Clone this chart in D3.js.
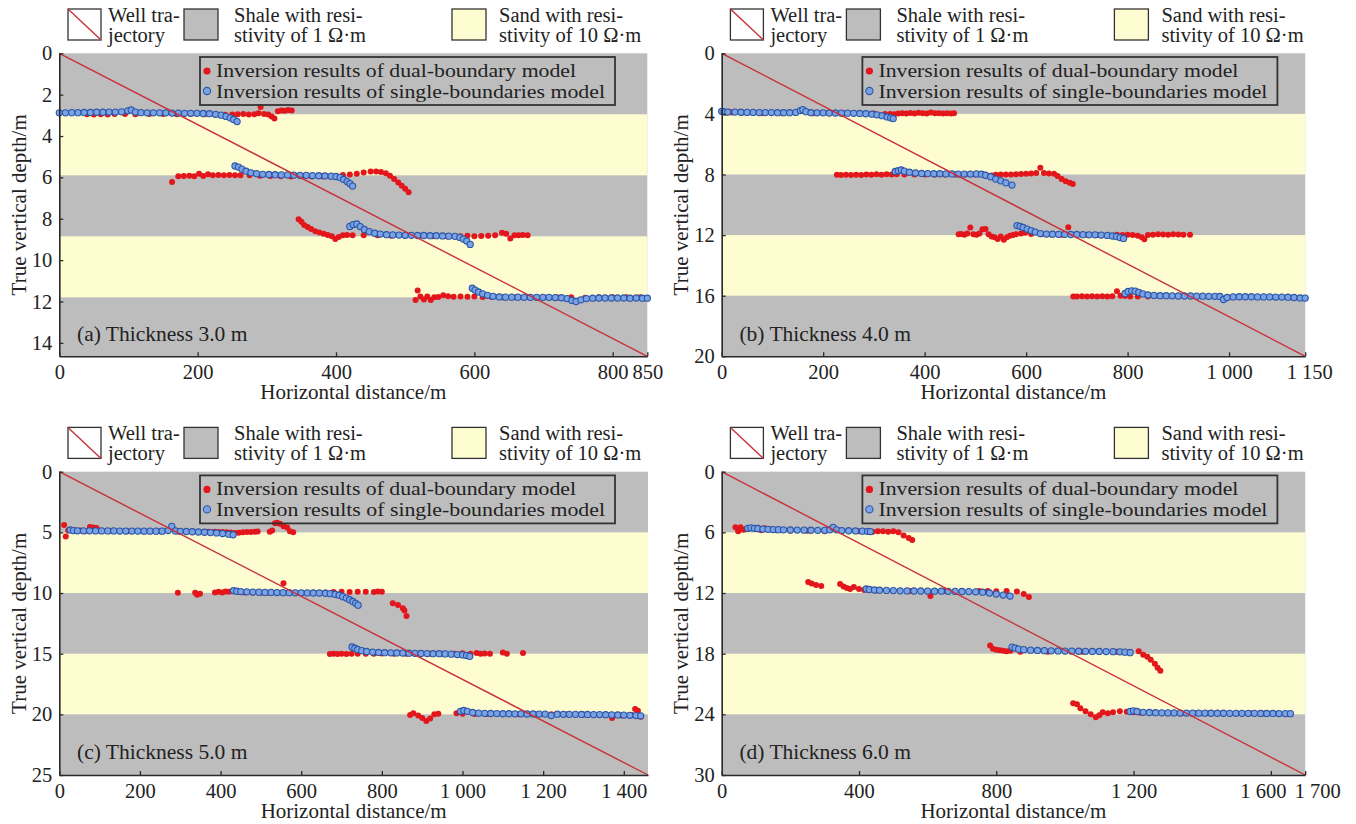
<!DOCTYPE html>
<html><head><meta charset="utf-8">
<script src="https://cdn.jsdelivr.net/npm/d3@7"></script>
<style>
body{margin:0;background:#fff}
svg{display:block}
text{font-family:"Liberation Serif","Times New Roman",serif;fill:#222}
</style>
</head><body>
<svg id="chart" width="1356" height="824"></svg>
<script>
// ---------------- DATA ----------------
const xTicksA=[0,200,400,600,800,850], yTicksA=[0,2,4,6,8,10,12,14];
const xTicksB=[0,200,400,600,800,1000,1150], yTicksB=[0,4,8,12,16,20];
const xTicksC=[0,200,400,600,800,1000,1200,1400], yTicksC=[0,5,10,15,20,25];
const xTicksD=[0,400,800,1200,1600,1700], yTicksD=[0,6,12,18,24,30];

const boundsA=[2.95,5.9,8.85,11.8];
const boundsB=[4,8,12,16];
const boundsC=[5,10,15,20];
const boundsD=[6,12,18,24];

const wellA=[[0,0],[850,14.65]];
const wellB=[[0,0],[1150,20]];
const wellC=[[0,0],[1460,25]];
const wellD=[[0,0],[1700,30]];

// dual-boundary model (red)
const dualA=[
[40,2.95],[50,2.96],[60,2.95],[70,2.96],[80,2.94],[95,2.93],[110,2.95],[130,2.94],[150,2.94],[170,2.95],[190,2.94],[210,2.95],[225,2.96],[240,2.97],[250,2.96],[258,2.95],[266,2.94],[274,2.96],[282,2.95],[288,2.9],[291,2.6],[296,2.94],[302,2.96],[307,3.05],[311,3.15],[316,2.8],[321,2.76],[326,2.78],[331,2.74],[336,2.77],
[163,6.22],[172,5.95],[180,5.93],[188,5.92],[195,5.95],[202,5.82],[208,5.93],[215,5.85],[222,5.9],[230,5.88],[238,5.9],[246,5.88],[254,5.9],[262,5.9],[275,5.9],[290,5.92],[305,5.93],[320,5.95],[335,5.96],[350,5.95],[365,5.96],[380,5.95],[392,5.96],[400,5.92],[410,5.88],[420,5.86],[430,5.82],[440,5.76],[450,5.72],[458,5.72],[465,5.74],[472,5.8],[478,5.92],[484,6.08],[490,6.25],[495,6.4],[500,6.55],[505,6.72],
[346,8.02],[350,8.15],[354,8.3],[359,8.4],[364,8.5],[370,8.6],[376,8.66],[382,8.72],[388,8.78],[394,8.85],[399,8.98],[404,8.88],[410,8.8],[416,8.78],[424,8.8],[440,8.8],[460,8.8],[480,8.82],[500,8.82],[520,8.83],[540,8.84],[560,8.85],[580,8.84],[590,8.82],[600,8.85],[610,8.83],[620,8.82],[630,8.8],[640,8.68],[646,8.72],[652,8.95],[658,8.8],[664,8.8],[670,8.78],[677,8.8],
[515,11.93],[518,11.47],[522,11.76],[527,11.9],[532,11.76],[537,11.93],[542,11.8],[548,11.78],[555,11.7],[562,11.75],[570,11.77],[580,11.76],[590,11.77],[600,11.76],[612,11.78],[625,11.78],[640,11.79],[660,11.8],[680,11.8],[700,11.8],[720,11.81],[740,11.8],[760,11.82],[780,11.8],[800,11.79],[820,11.8],[840,11.8]
];
// single-boundaries model (blue)
const singleA=[
[0,2.88],[9,2.88],[18,2.87],[27,2.87],[36,2.86],[45,2.86],[54,2.85],[63,2.85],[72,2.84],[81,2.84],[90,2.83],[99,2.78],[104,2.74],[110,2.84],[118,2.87],[127,2.88],[136,2.88],[145,2.88],[154,2.88],[163,2.89],[172,2.89],[181,2.9],[190,2.9],[199,2.9],[208,2.91],[217,2.92],[226,2.95],[234,2.99],[241,3.05],[247,3.12],[252,3.2],[257,3.3],
[254,5.45],[259,5.5],[264,5.6],[270,5.7],[277,5.78],[285,5.82],[294,5.85],[303,5.86],[312,5.87],[321,5.88],[330,5.88],[339,5.89],[348,5.9],[357,5.9],[366,5.91],[375,5.92],[384,5.93],[393,5.94],[400,5.96],[406,6.0],[411,6.1],[416,6.2],[420,6.3],[424,6.42],
[420,8.37],[425,8.28],[430,8.25],[435,8.38],[441,8.52],[448,8.62],[456,8.7],[464,8.74],[473,8.77],[482,8.78],[491,8.79],[500,8.8],[509,8.8],[518,8.81],[527,8.81],[536,8.82],[545,8.82],[554,8.83],[563,8.84],[572,8.85],[579,8.9],[584,8.98],[589,9.08],[594,9.24],
[597,11.36],[601,11.45],[606,11.54],[612,11.63],[619,11.7],[627,11.75],[636,11.78],[645,11.79],[654,11.79],[663,11.79],[672,11.8],[681,11.8],[690,11.8],[699,11.8],[708,11.8],[717,11.81],[726,11.82],[734,11.86],[741,11.95],[747,12.0],[754,11.92],[762,11.86],[771,11.84],[780,11.83],[789,11.83],[798,11.83],[807,11.83],[816,11.83],[825,11.84],[834,11.83],[843,11.84],[850,11.84]
];

const dualB=[
[8,3.9],[14,3.86],[20,3.9],[40,3.93],[80,3.95],[120,3.95],[180,3.96],[240,3.97],[300,3.98],[322,4.0],[332,4.0],[340,4.02],[348,3.98],[356,3.96],[364,3.98],[372,3.94],[380,3.97],[388,3.92],[396,3.95],[404,3.97],[412,3.9],[420,3.96],[428,3.95],[436,3.97],[444,3.96],[452,3.97],[458,3.96],
[227,8.02],[235,8.03],[245,8.02],[255,8.04],[265,8.02],[275,8.03],[285,8.0],[295,8.02],[305,7.98],[315,8.01],[325,7.98],[335,8.0],[345,7.98],[360,8.0],[380,8.0],[400,8.0],[420,8.0],[440,8.0],[460,8.0],[480,8.0],[500,8.0],[520,8.02],[532,8.06],[540,8.02],[550,8.0],[560,8.0],[570,8.0],[580,7.98],[590,7.96],[600,7.95],[610,7.93],[620,7.9],[628,7.55],[635,7.9],[645,7.93],[655,7.95],[662,8.1],[670,8.3],[678,8.45],[686,8.55],[692,8.62],
[467,11.95],[472,11.92],[478,11.98],[484,11.9],[490,11.5],[496,11.95],[502,11.98],[508,11.9],[514,11.62],[520,11.6],[526,11.95],[532,12.1],[538,12.15],[544,12.25],[550,12.1],[556,12.3],[562,12.15],[568,12.05],[574,12.0],[580,11.95],[590,11.9],[598,11.85],[610,11.92],[630,11.95],[650,11.96],[670,11.97],[683,11.48],[700,11.97],[720,11.98],[740,12.0],[760,12.0],[779,11.98],[790,12.0],[800,11.98],[810,11.99],[820,12.05],[828,12.15],[833,12.28],[840,12.0],[850,11.97],[860,11.95],[870,11.96],[880,11.97],[890,11.95],[900,11.96],[910,11.97],[923,11.98],
[693,16.05],[700,16.05],[710,16.04],[720,16.05],[730,16.04],[740,16.05],[750,16.04],[760,16.05],[770,16.04],[779,15.7],[786,16.0],[795,16.02],[805,16.05],[820,16.05],[840,16.06]
];
const singleB=[
[0,3.83],[5,3.87],[12,3.88],[26,3.88],[38,3.89],[50,3.9],[62,3.9],[74,3.91],[86,3.91],[98,3.91],[110,3.92],[122,3.92],[134,3.92],[146,3.9],[155,3.78],[160,3.72],[166,3.85],[176,3.92],[188,3.93],[200,3.93],[212,3.94],[224,3.94],[236,3.95],[248,3.95],[260,3.96],[272,3.97],[284,3.99],[296,4.02],[306,4.06],[316,4.12],[326,4.2],[333,4.26],[338,4.31],
[342,7.8],[348,7.75],[354,7.7],[360,7.78],[370,7.85],[382,7.9],[394,7.93],[406,7.94],[418,7.95],[430,7.95],[442,7.96],[454,7.96],[466,7.97],[478,7.97],[490,7.97],[502,7.96],[512,7.98],[520,8.05],[530,8.15],[540,8.3],[550,8.42],[560,8.55],[572,8.7],
[582,11.37],[588,11.42],[594,11.5],[602,11.6],[610,11.7],[618,11.8],[628,11.9],[640,11.93],[652,11.94],[664,11.95],[676,11.95],[688,11.96],[700,11.96],[712,11.97],[724,11.98],[736,11.98],[748,12.0],[760,12.02],[770,12.06],[778,12.1],[785,12.16],[792,12.22],
[795,15.85],[801,15.72],[808,15.68],[815,15.7],[822,15.78],[830,15.88],[840,15.95],[852,15.98],[864,16.0],[876,16.0],[888,16.01],[900,16.02],[912,16.02],[924,16.02],[936,16.03],[948,16.03],[960,16.04],[972,16.04],[982,16.05],[989,16.25],[996,16.12],[1008,16.08],[1020,16.07],[1032,16.07],[1044,16.07],[1056,16.08],[1068,16.08],[1080,16.08],[1092,16.09],[1104,16.09],[1116,16.1],[1128,16.12],[1140,16.15],[1150,16.16]
];

const dualC=[
[12,4.4],[16,5.35],[22,4.85],[30,4.8],[40,4.85],[52,4.85],[64,4.9],[76,4.55],[84,4.6],[92,4.65],[100,4.85],[130,4.88],[170,4.9],[210,4.9],[250,4.9],[290,4.92],[330,4.93],[370,4.95],[385,4.95],[395,4.97],[405,4.98],[415,5.0],[425,5.02],[435,5.05],[445,5.03],[455,5.0],[465,4.98],[475,4.97],[485,4.95],[492,4.92],[522,4.95],[528,4.85],[535,4.25],[540,4.2],[547,4.3],[556,4.5],[565,4.6],[572,4.9],[580,5.0],
[294,9.97],[337,9.98],[342,10.15],[349,10.05],[386,9.95],[395,9.9],[404,9.95],[412,9.88],[420,9.9],[428,9.85],[440,9.9],[460,9.95],[480,9.97],[500,9.97],[520,9.98],[540,9.98],[556,9.2],[570,9.98],[600,9.98],[630,9.97],[660,9.95],[680,9.92],[700,9.9],[720,9.92],[740,9.9],[760,9.9],[780,9.92],[790,9.88],[800,9.9],[827,10.85],[840,10.98],[852,11.26],[856,11.45],[861,11.9],
[671,15.03],[680,15.0],[690,15.02],[700,15.0],[712,15.03],[725,15.0],[740,15.0],[760,15.0],[780,15.0],[800,14.98],[830,15.0],[860,15.0],[890,15.0],[920,15.0],[950,15.0],[980,15.0],[1000,14.97],[1020,15.0],[1035,14.95],[1045,15.0],[1055,14.98],[1068,15.0],[1100,14.9],[1110,15.0],[1150,14.95],
[870,20.05],[878,19.92],[890,20.1],[900,20.3],[910,20.55],[920,20.35],[930,20.0],[940,19.95],[985,19.92],[1000,19.95],[1030,19.97],[1060,19.98],[1100,19.98],[1140,19.99],[1180,20.0],[1220,20.0],[1260,20.0],[1300,20.02],[1340,20.05],[1371,20.3],[1395,20.1],[1420,20.05],[1428,19.55],[1435,19.7],[1442,20.2]
];
const singleC=[
[27,4.8],[35,4.85],[45,4.87],[60,4.87],[75,4.87],[90,4.88],[105,4.88],[120,4.88],[135,4.88],[150,4.89],[165,4.89],[180,4.89],[195,4.89],[210,4.9],[225,4.9],[240,4.9],[255,4.9],[270,4.85],[279,4.5],[288,4.88],[300,4.92],[315,4.93],[330,4.95],[345,4.97],[360,4.99],[375,5.02],[390,5.05],[405,5.1],[420,5.15],[431,5.2],
[432,9.8],[440,9.85],[450,9.88],[465,9.9],[480,9.92],[495,9.93],[510,9.95],[525,9.95],[540,9.96],[555,9.97],[570,9.97],[585,9.98],[600,9.98],[615,9.99],[630,10.0],[645,10.0],[660,10.02],[672,10.05],[684,10.1],[694,10.18],[703,10.3],[712,10.42],[720,10.55],[728,10.7],[735,10.85],[741,11.0],
[726,14.45],[733,14.55],[740,14.65],[750,14.75],[762,14.82],[777,14.87],[792,14.9],[807,14.92],[822,14.93],[837,14.94],[852,14.95],[867,14.96],[882,14.97],[897,14.98],[912,14.99],[927,15.0],[942,15.0],[957,15.02],[972,15.04],[987,15.07],[1000,15.1],[1010,15.15],[1018,15.22],
[995,19.75],[1003,19.68],[1012,19.75],[1025,19.85],[1040,19.9],[1055,19.92],[1070,19.93],[1085,19.94],[1100,19.95],[1115,19.95],[1130,19.96],[1145,19.96],[1160,19.97],[1175,19.97],[1190,19.98],[1205,19.98],[1220,20.1],[1235,19.99],[1250,20.0],[1265,20.0],[1280,20.0],[1295,20.01],[1310,20.01],[1325,20.02],[1340,20.02],[1355,20.03],[1370,20.04],[1385,20.05],[1400,20.06],[1415,20.08],[1430,20.1],[1442,20.12]
];

const dualD=[
[40,5.5],[48,5.9],[55,5.5],[63,5.75],[70,5.7],[105,5.55],[115,5.8],[125,5.6],[140,5.7],[160,5.8],[200,5.85],[250,5.85],[300,5.88],[350,5.9],[400,5.9],[440,5.95],[455,5.9],[470,5.88],[485,5.95],[500,5.9],[515,6.0],[530,6.3],[545,6.55],[555,6.75],
[252,10.9],[262,11.05],[275,11.2],[290,11.3],[345,11.1],[355,11.35],[365,11.5],[374,11.6],[385,11.4],[400,11.6],[415,11.7],[432,11.65],[450,11.75],[500,11.8],[550,11.8],[600,11.85],[608,12.3],[650,11.8],[700,11.8],[750,11.8],[775,11.8],[800,11.82],[830,11.8],[860,11.85],[880,12.1],[895,12.4],
[782,17.2],[790,17.5],[800,17.6],[810,17.65],[820,17.7],[830,17.75],[841,17.7],[870,17.8],[950,17.8],[1050,17.8],[1150,17.8],[1190,17.8],[1215,17.75],[1228,18.1],[1240,18.3],[1250,18.6],[1262,19.0],[1270,19.4],[1278,19.7],
[1024,22.9],[1035,23.0],[1045,23.4],[1060,23.7],[1075,24.0],[1090,24.3],[1100,24.1],[1110,23.8],[1125,23.9],[1140,23.8],[1160,23.7],[1180,23.75],[1200,23.8],[1220,23.85],[1260,23.85],[1300,23.88],[1340,23.88],[1380,23.9],[1420,23.9],[1460,23.9],[1500,23.9],[1540,23.9],[1580,23.92],[1620,23.92],[1650,23.95]
];
const singleD=[
[76,5.6],[85,5.55],[95,5.6],[105,5.62],[120,5.68],[135,5.7],[150,5.72],[165,5.73],[180,5.75],[200,5.76],[220,5.77],[240,5.78],[260,5.79],[280,5.8],[300,5.8],[315,5.75],[325,5.5],[335,5.75],[350,5.82],[370,5.84],[390,5.86],[410,5.88],[425,5.9],[433,5.92],
[421,11.6],[430,11.65],[445,11.7],[460,11.72],[480,11.74],[500,11.76],[520,11.78],[540,11.79],[560,11.8],[580,11.8],[600,11.81],[620,11.82],[640,11.82],[660,11.83],[680,11.84],[700,11.85],[720,11.86],[740,11.88],[760,11.92],[780,12.0],[800,12.1],[820,12.2],[840,12.3],
[846,17.35],[855,17.45],[865,17.55],[880,17.6],[900,17.65],[920,17.68],[940,17.7],[960,17.72],[980,17.73],[1000,17.74],[1020,17.75],[1040,17.76],[1060,17.77],[1080,17.78],[1100,17.78],[1120,17.79],[1140,17.8],[1160,17.82],[1175,17.85],[1190,17.9],
[1190,23.72],[1200,23.65],[1210,23.72],[1228,23.8],[1246,23.82],[1264,23.84],[1282,23.85],[1300,23.86],[1318,23.86],[1336,23.87],[1354,23.87],[1372,23.88],[1390,23.88],[1408,23.88],[1426,23.89],[1444,23.89],[1462,23.89],[1480,23.9],[1498,23.9],[1516,23.9],[1534,23.9],[1552,23.9],[1570,23.91],[1588,23.91],[1606,23.91],[1624,23.92],[1642,23.92],[1657,23.93]
];

const panelLabels=["(a) Thickness 3.0 m","(b) Thickness 4.0 m","(c) Thickness 5.0 m","(d) Thickness 6.0 m"];
const legendTexts={well:["Well tra-","jectory"],shale:["Shale with resi-","stivity of 1 \u03A9\u00B7m"],sand:["Sand with resi-","stivity of 10 \u03A9\u00B7m"],
  dual:"Inversion results of dual-boundary model",single:"Inversion results of single-boundaries model"};

// ---------------- STYLE / LAYOUT ----------------
const SHALE="#bdbdbd", SAND="#fefdd2", WELL="#c9303a", RED="#e3161b", BLUE_FILL="#7aa3e6", BLUE_STROKE="#2c56a6", AXIS="#2a2a2a";
const FS=21, FS_TICK=20.5, FS_TOP=20.5, FS_LEG=19;
const panels=[
 {x0:59.3,y0:53.3,w:588,h:303,xMax:850,yMax:14.65,xt:xTicksA,yt:yTicksA,b:boundsA,well:wellA,dual:dualA,single:singleA},
 {x0:721.7,y0:53.3,w:583.5,h:303,xMax:1150,yMax:20,xt:xTicksB,yt:yTicksB,b:boundsB,well:wellB,dual:dualB,single:singleB},
 {x0:59.3,y0:471.7,w:588.7,h:303.3,xMax:1460,yMax:25,xt:xTicksC,yt:yTicksC,b:boundsC,well:wellC,dual:dualC,single:singleC},
 {x0:721.7,y0:471.7,w:583.5,h:303.3,xMax:1700,yMax:30,xt:xTicksD,yt:yTicksD,b:boundsD,well:wellD,dual:dualD,single:singleD}
];

const svg=d3.select("#chart");
const fmt=d=> d>=1000 ? String(d).replace(/(\d)(\d{3})$/,"$1 $2") : String(d);

panels.forEach((p,i)=>{
  const g=svg.append("g");
  const x=d3.scaleLinear().domain([0,p.xMax]).range([p.x0,p.x0+p.w]);
  const y=d3.scaleLinear().domain([0,p.yMax]).range([p.y0,p.y0+p.h]);
  const dx=p.x0-59.3, dy=p.y0-53.3;

  // layers
  g.append("rect").attr("x",x(0)).attr("y",y(0)).attr("width",x(p.xMax)-x(0)).attr("height",y(p.yMax)-y(0)).attr("fill",SHALE);
  for(let k=0;k<p.b.length;k+=2){
    g.append("rect").attr("x",x(0)).attr("y",y(p.b[k])).attr("width",x(p.xMax)-x(0)).attr("height",y(p.b[k+1])-y(p.b[k])).attr("fill",SAND);
  }
  // dual (red)
  g.append("g").selectAll("circle").data(p.dual).join("circle")
   .attr("cx",d=>x(d[0])).attr("cy",d=>y(d[1])).attr("r",3).attr("fill",RED);
  // single (blue)
  g.append("g").selectAll("circle").data(p.single).join("circle")
   .attr("cx",d=>x(d[0])).attr("cy",d=>y(d[1])).attr("r",3.1).attr("fill",BLUE_FILL).attr("stroke",BLUE_STROKE).attr("stroke-width",1.1);
  // well trajectory
  g.append("path").attr("d",d3.line().x(d=>x(d[0])).y(d=>y(d[1]))(p.well)).attr("stroke",WELL).attr("stroke-width",1.4).attr("fill","none");

  // axes
  const ax=g.append("g").attr("transform",`translate(0,${y(p.yMax)})`)
    .call(d3.axisBottom(x).tickValues(p.xt).tickFormat(fmt).tickSize(-4).tickSizeOuter(0).tickPadding(8));
  const ay=g.append("g").attr("transform",`translate(${x(0)},0)`)
    .call(d3.axisLeft(y).tickValues(p.yt).tickFormat(fmt).tickSize(-4).tickSizeOuter(0).tickPadding(7));
  [ax,ay].forEach(a=>{
    a.selectAll("path.domain").attr("stroke",AXIS).attr("stroke-width",1.6);
    a.selectAll("line").attr("stroke",AXIS).attr("stroke-width",1.3);
    a.selectAll("text").attr("font-size",FS_TICK).attr("font-family","Liberation Serif").attr("fill","#222");
  });
  if(i===3){
    ax.selectAll(".tick text").attr("dx",(d)=> d===1700?12:(d===1600?-8:0));
  }
  if(i===1){
    ax.selectAll(".tick text").attr("dx",(d)=> d===1150?4:0);
  }

  // axis titles
  g.append("text").attr("transform",`translate(${dx+26},${p.y0+p.h/2}) rotate(-90)`).attr("text-anchor","middle")
   .attr("font-size",FS).text("True vertical depth/m");
  g.append("text").attr("x",p.x0+p.w/2).attr("y",p.y0+p.h+43).attr("text-anchor","middle")
   .attr("font-size",FS).text("Horizontal distance/m");

  // panel label
  g.append("text").attr("x",dx+77).attr("y",dy+341).attr("font-size",21.5).text(panelLabels[i]);

  // inner legend
  const lg=g.append("g").attr("transform",`translate(${dx},${dy})`);
  lg.append("rect").attr("x",200).attr("y",57).attr("width",415).attr("height",48).attr("fill","none").attr("stroke","#333").attr("stroke-width",1.8);
  lg.append("circle").attr("cx",207).attr("cy",71).attr("r",3.6).attr("fill",RED);
  lg.append("circle").attr("cx",207).attr("cy",91).attr("r",3.6).attr("fill",BLUE_FILL).attr("stroke",BLUE_STROKE).attr("stroke-width",1.1);
  lg.append("text").attr("x",216).attr("y",77).attr("font-size",FS_LEG)
    .attr("textLength",360).attr("lengthAdjust","spacingAndGlyphs").text(legendTexts.dual);
  lg.append("text").attr("x",216).attr("y",98).attr("font-size",FS_LEG)
    .attr("textLength",389).attr("lengthAdjust","spacingAndGlyphs").text(legendTexts.single);

  // top legend
  const tg=g.append("g").attr("transform",`translate(${dx},${dy})`);
  tg.append("rect").attr("x",68).attr("y",9).attr("width",33).attr("height",31).attr("fill","#fff").attr("stroke","#333").attr("stroke-width",1.3);
  tg.append("line").attr("x1",68).attr("y1",9).attr("x2",101).attr("y2",40).attr("stroke",WELL).attr("stroke-width",1.4);
  tg.append("text").attr("x",108).attr("y",22).attr("font-size",FS_TOP).text(legendTexts.well[0]);
  tg.append("text").attr("x",108).attr("y",42).attr("font-size",FS_TOP).text(legendTexts.well[1]);
  tg.append("rect").attr("x",184).attr("y",9).attr("width",34).attr("height",31).attr("fill",SHALE).attr("stroke","#333").attr("stroke-width",1.3);
  tg.append("text").attr("x",234).attr("y",22).attr("font-size",FS_TOP).text(legendTexts.shale[0]);
  tg.append("text").attr("x",234).attr("y",42).attr("font-size",FS_TOP).text(legendTexts.shale[1]);
  tg.append("rect").attr("x",452).attr("y",9).attr("width",34).attr("height",31).attr("fill",SAND).attr("stroke","#333").attr("stroke-width",1.3);
  tg.append("text").attr("x",499).attr("y",22).attr("font-size",FS_TOP).text(legendTexts.sand[0]);
  tg.append("text").attr("x",499).attr("y",42).attr("font-size",FS_TOP).text(legendTexts.sand[1]);
});
</script>
</body></html>
